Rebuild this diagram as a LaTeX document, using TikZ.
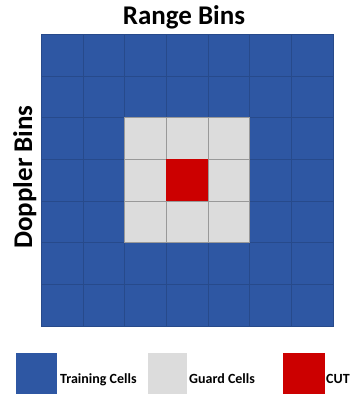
\documentclass[tikz,border=0pt]{standalone}
\usepackage{fontspec}
\setmainfont{Carlito}
\usetikzlibrary{positioning}
\definecolor{trainblue}{RGB}{46,87,163}
\definecolor{guardgray}{RGB}{220,220,220}
\definecolor{cutred}{RGB}{204,0,0}
\tikzset{
  traincell/.style={fill=trainblue, draw=trainblue!85!black, line width=0.4pt},
  guardcell/.style={fill=guardgray, draw=black!40, line width=0.5pt},
  cutcell/.style={fill=cutred},
  keybox/.style={minimum width=41pt, minimum height=41pt, inner sep=0pt},
  keytext/.style={font=\fontsize{14}{16}\selectfont\bfseries, anchor=base west, inner sep=0pt},
  axistext/.style={font=\fontsize{27}{30}\selectfont\bfseries, inner sep=0pt}
}

\begin{document}
\begin{tikzpicture}[x=1pt, y=-1pt]
    \useasboundingbox (0,0) rectangle (349,394);

    % --- Training Cells (7 x 7 grid) ---
    \foreach \i in {0,...,6} {
      \foreach \j in {0,...,6} {
        \pgfmathsetmacro{\x}{41+41.7*\i}
        \pgfmathsetmacro{\y}{34+41.7*\j}
        \filldraw[traincell] (\x,\y) rectangle ++(41.7,41.7);
      }
    }

    % --- Guard Cells (3 x 3 block round the CUT) ---
    \foreach \i in {2,3,4} {
      \foreach \j in {2,3,4} {
        \pgfmathsetmacro{\x}{41+41.7*\i}
        \pgfmathsetmacro{\y}{34+41.7*\j}
        \filldraw[guardcell] (\x,\y) rectangle ++(41.7,41.7);
      }
    }

    % --- Cell Under Test ---
    \fill[cutcell] (41+41.7*3,34+41.7*3) rectangle ++(41.7,41.7);

    % --- Axis labels ---
    \node[axistext, anchor=base] (rangelabel) at (184,24) {Range Bins};
    \node[axistext, anchor=base, rotate=90] (dopplerlabel) at (32,177) {Doppler Bins};

    % --- Legend ---
    \node[keybox, fill=trainblue] (trainkey) at (36.5,373.5) {};
    \node[keytext] (traintext) at (60,383) {Training Cells};
    \node[keybox, fill=guardgray, minimum width=39pt] (guardkey) at (167.5,373.5) {};
    \node[keytext] (guardtext) at (189,383) {Guard Cells};
    \node[keybox, fill=cutred, minimum width=42pt] (cutkey) at (304,373.5) {};
    \node[keytext] (cuttext) at (326,383) {CUT};

\end{tikzpicture}
\end{document}
